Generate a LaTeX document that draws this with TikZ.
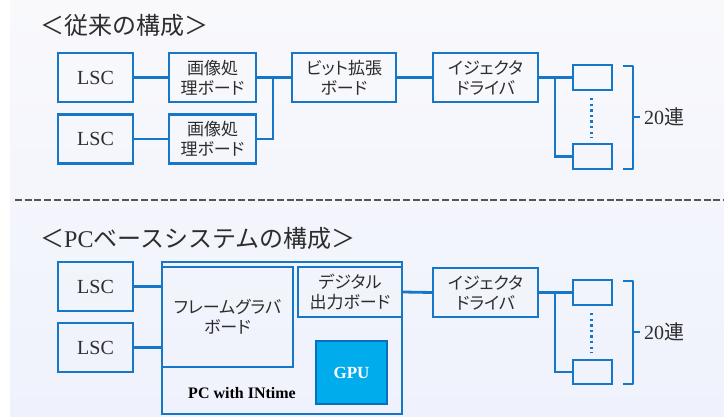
\documentclass[tikz,border=0pt]{standalone}
\usepackage{fontspec}
\setmainfont{Liberation Serif}
\newfontfamily\jp[RawFeature=+palt]{Noto Sans CJK JP}
\newfontfamily\jpt{Noto Sans CJK JP}
\definecolor{lineblue}{RGB}{22,118,200}
\definecolor{txt}{RGB}{45,45,45}
\definecolor{gpufill}{RGB}{0,172,236}
\definecolor{gpuborder}{RGB}{8,110,190}
\definecolor{bgtop}{RGB}{249,249,252}
\definecolor{bgbot}{RGB}{239,242,252}
\definecolor{sepgray}{RGB}{85,85,85}
\tikzset{
  box/.style={draw=lineblue, line width=2.2pt, fill=none, inner sep=0pt, align=center, text=txt},
  jptext/.style={font=\jp\fontsize{17}{20}\selectfont},
  lsctext/.style={font=\fontsize{20}{24}\selectfont},
  conn/.style={draw=lineblue, line width=2.8pt},
  brace/.style={draw=lineblue, line width=1.7pt, line join=round},
  dots/.style={draw=lineblue, line width=3pt, dash pattern=on 2.4pt off 3.2pt},
  ttl/.style={anchor=west, inner sep=0pt, text=txt, font=\jpt\fontsize{24}{28}\selectfont},
  lbl/.style={anchor=west, inner sep=0pt, text=txt, font=\fontsize{20}{24}\selectfont},
}
\begin{document}
\begin{tikzpicture}[x=1pt, y=-1pt]
\useasboundingbox (0,0) rectangle (724,416);
\shade[top color=bgtop, bottom color=bgbot] (10,0) rectangle (724,416);

% ---------- top section ----------
\node[ttl] (t1) at (40,25) {＜従来の構成＞};

\node[box, lsctext, minimum width=75pt, minimum height=49pt] (lsc1) at (95.5,77.5) {LSC};
\node[box, lsctext, minimum width=75pt, minimum height=49pt] (lsc2) at (95.5,139) {LSC};
\node[box, jptext, minimum width=87pt, minimum height=49pt] (img1) at (212.5,77.5) {画像処\\理ボード};
\node[box, jptext, minimum width=87pt, minimum height=49pt] (img2) at (212.5,139) {画像処\\理ボード};
\node[box, jptext, minimum width=104pt, minimum height=49pt] (bit) at (344,77.5) {ビット拡張\\ボード};
\node[box, jptext, minimum width=105pt, minimum height=49pt] (ej1) at (485.5,77.5) {イジェクタ\\ドライバ};
\node[box, minimum width=39pt, minimum height=25pt] (sb1) at (592.5,77.5) {};
\node[box, minimum width=39pt, minimum height=25pt] (sb2) at (592.5,156.5) {};

\coordinate (jn1) at (273,77.5);
\coordinate (br1) at (555,77.5);
\draw[conn] (lsc1.east) -- (img1.west);
\draw[conn] (lsc2.east) -- (img2.west);
\draw[conn] (img1.east) -- (bit.west);
\draw[conn] (img2.east) -| (jn1);
\draw[conn] (bit.east) -- (ej1.west);
\draw[conn] (ej1.east) -- (sb1.west);
\draw[conn] (br1) |- (sb2.west);

\coordinate (d1a) at (591,98);
\coordinate (d1b) at (591,138);
\draw[dots] (d1a) -- (d1b);

\coordinate (b1t) at (623,66);
\coordinate (b1b) at (623,169);
\coordinate (b1m) at (633,117);
\draw[brace] (b1t) -- (633,66) -- (633,169) -- (b1b);
\draw[brace] (b1m) -- ++(7,0);
\node[lbl] (n1) at (644,117) {20{\jpt 連}};

% ---------- separator ----------
\coordinate (sepa) at (15,200);
\coordinate (sepb) at (724,200);
\draw[sepgray, line width=2pt, dash pattern=on 7pt off 2.7pt] (sepa) -- (sepb);

% ---------- bottom section ----------
\node[ttl] (t2) at (40,238) {＜{\rmfamily PC}ベースシステムの構成＞};

\node[box, lsctext, minimum width=75pt, minimum height=49pt] (lsc3) at (95.5,286.5) {LSC};
\node[box, lsctext, minimum width=75pt, minimum height=49pt] (lsc4) at (95.5,347.5) {LSC};

\node[box, minimum width=240pt, minimum height=152pt] (pc) at (282,338) {};
\node[box, jptext, minimum width=131pt, minimum height=100pt] (fg) at (227.5,317) {フレームグラバ\\ボード};
\node[box, jptext, minimum width=104pt, minimum height=50pt] (dig) at (350,292) {デジタル\\出力ボード};
\node[draw=gpuborder, fill=gpufill, line width=2pt, minimum width=71pt, minimum height=63pt, text=white, font=\bfseries\fontsize{17}{20}\selectfont] (gpu) at (351.5,372.5) {GPU};
\node[text=black, font=\bfseries\fontsize{16}{19}\selectfont, inner sep=0pt] (pclbl) at (242,393) {PC with INtime};

\node[box, jptext, minimum width=105pt, minimum height=49pt] (ej2) at (485.5,292.5) {イジェクタ\\ドライバ};
\node[box, minimum width=39pt, minimum height=25pt] (sb3) at (592.5,292.5) {};
\node[box, minimum width=39pt, minimum height=24pt] (sb4) at (592.5,372) {};

\coordinate (br2) at (555,292.5);
\draw[conn] (lsc3.east) -- (lsc3.east -| pc.west);
\draw[conn] (lsc4.east) -- (lsc4.east -| pc.west);
\draw[conn] (dig.east) -- (ej2.west);
\draw[conn] (ej2.east) -- (sb3.west);
\draw[conn] (br2) |- (sb4.west);

\coordinate (d2a) at (591,313);
\coordinate (d2b) at (591,353);
\draw[dots] (d2a) -- (d2b);

\coordinate (b2t) at (623,281);
\coordinate (b2b) at (623,384);
\coordinate (b2m) at (633,332);
\draw[brace] (b2t) -- (633,281) -- (633,384) -- (b2b);
\draw[brace] (b2m) -- ++(7,0);
\node[lbl] (n2) at (644,332) {20{\jpt 連}};
\end{tikzpicture}
\end{document}
